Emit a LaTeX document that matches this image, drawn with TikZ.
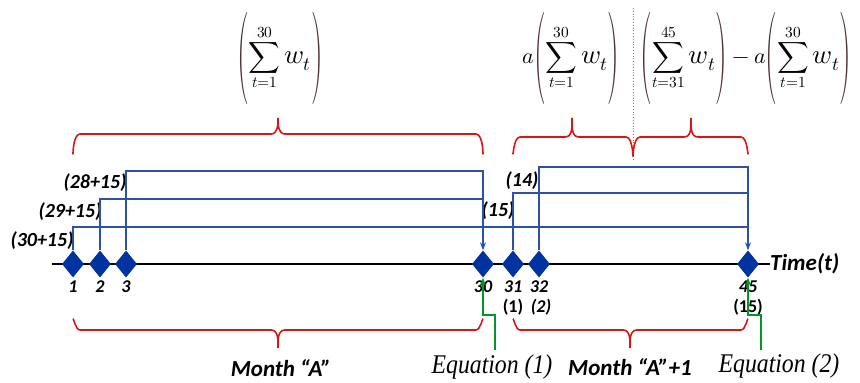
\documentclass[tikz,border=0pt]{standalone}
\usepackage{fontspec}
\usepackage{unicode-math}
\usepackage{graphicx}
\usetikzlibrary{shapes.geometric,arrows.meta}
\newfontfamily\lblfont{Carlito}
\newfontfamily\eqfont{Liberation Serif}
\definecolor{dblue}{RGB}{0,51,160}
\definecolor{lblue}{RGB}{45,80,170}
\definecolor{bred}{RGB}{220,20,20}
\definecolor{bgreen}{RGB}{0,150,40}
\definecolor{pbrown}{RGB}{80,50,50}
\tikzset{
  dia/.style={diamond,fill=dblue,draw=none,minimum width=22pt,minimum height=27pt,inner sep=0pt},
  num/.style={font=\lblfont\bfseries\itshape\fontsize{18}{20}\selectfont,inner sep=0pt},
  numup/.style={font=\lblfont\bfseries\fontsize{18}{20}\selectfont,inner sep=0pt},
  cnt/.style={font=\lblfont\bfseries\itshape\fontsize{20}{22}\selectfont,inner sep=0pt},
  big/.style={font=\lblfont\bfseries\itshape\fontsize{23}{26}\selectfont,inner sep=0pt},
  eqlbl/.style={font=\eqfont\itshape\fontsize{27}{30}\selectfont,inner sep=0pt,xscale=0.88},
  formula/.style={font=\fontsize{22}{26}\selectfont,inner sep=0pt},
  bline/.style={draw=lblue,line width=1.3pt},
  btip/.style={-{Stealth[length=8pt,width=6pt]}},
  brace/.style={draw=bred,line width=1.6pt},
  gline/.style={draw=bgreen,line width=1.5pt,-{Stealth[length=8pt,width=6pt]}},
}
\newcommand{\lpar}{\mathopen{\vcenter{\hbox{\color{pbrown}\scalebox{1.5}[4.2]{\fontsize{22}{22}\selectfont(}}}}}
\newcommand{\rpar}{\mathclose{\vcenter{\hbox{\color{pbrown}\scalebox{1.5}[4.2]{\fontsize{22}{22}\selectfont)}}}}}
\newcommand{\wt}{\mbox{\fontsize{27}{27}\selectfont$w_t$}}
\newcommand{\wsum}[2]{\lpar\displaystyle\sum_{#1}^{#2}\wt\rpar}
\begin{document}
\begin{tikzpicture}[x=1pt,y=-1pt]
\useasboundingbox (0,0) rectangle (860,383);
% axis
\coordinate (axL) at (52,264);
\node[big,anchor=west] (time) at (770,264) {Time(t)};
\draw[line width=2pt] (axL) -- (time.west);
% diamonds
\node[dia] (d1) at (73,264) {};
\node[dia] (d2) at (100,264) {};
\node[dia] (d3) at (126,264) {};
\node[dia] (d30) at (483,264) {};
\node[dia] (d31) at (513,264) {};
\node[dia] (d32) at (539,264) {};
\node[dia] (d45) at (748,264) {};
% numbers
\node[num] (n1) at (73,287) {1};
\node[num] (n2) at (100,287) {2};
\node[num] (n3) at (126,287) {3};
\node[num] (n30) at (483,287) {30};
\node[num] (n31) at (513,287) {31};
\node[num] (n32) at (539,287) {32};
\node[num] (n45) at (748,287) {45};
\node[numup] (p1) at (513,307) {(1)};
\node[num] (p2) at (541,307) {(2)};
\node[numup] (p15) at (748,307) {(15)};
% counts
\node[cnt] (c1) at (42,241) {(30+15)};
\node[cnt] (c2) at (70,212) {(29+15)};
\node[cnt] (c3) at (95,183) {(28+15)};
\node[cnt] (c4) at (498,211) {(15)};
\node[cnt] (c5) at (522,181) {(14)};
% blue lines
\coordinate (y227) at (0,227);
\coordinate (y199) at (0,199);
\coordinate (y171) at (0,171);
\coordinate (y193) at (0,193);
\coordinate (y167) at (0,167);
\draw[bline] (d1.north) |- (y227 -| d45);
\draw[bline] (d2.north) |- (y199 -| d30);
\draw[bline,btip] (d3.north) |- (y171 -| d30) -- (d30.north);
\draw[bline] (d31.north) |- (y193 -| d45);
\draw[bline,btip] (d32.north) |- (y167 -| d45) -- (d45.north);
% formulas
\node[formula] (f1) at (280,58) {$\wsum{t=1}{30}$};
\node[formula] (f2) at (571,58) {$a\wsum{t=1}{30}$};
\node[formula] (f3) at (746,58) {$\wsum{t=31}{45}-a\wsum{t=1}{30}$};
% dotted separator
\draw[gray,dotted,line width=0.8pt] (633,8) -- (633,160);
% top braces
\draw[brace] (73,153) to[out=-90,in=180] (80,134) -- (271,134) to[out=0,in=-90] (278,118)
  to[out=-90,in=180] (285,134) -- (476,134) to[out=0,in=-90] (483,153);
\draw[brace] (513,153) to[out=-90,in=180] (520,137) -- (565,137) to[out=0,in=-90] (572,118)
  to[out=-90,in=180] (579,137) -- (626,137) to[out=0,in=-90] (633,155);
\draw[brace] (633,155) to[out=-90,in=180] (640,137) -- (684,137) to[out=0,in=-90] (691,118)
  to[out=-90,in=180] (698,137) -- (741,137) to[out=0,in=-90] (748,153);
% bottom braces
\draw[brace] (73,320) to[out=90,in=180] (80,330) -- (271,330) to[out=0,in=90] (278,348)
  to[out=90,in=180] (285,330) -- (476,330) to[out=0,in=90] (483,320);
\draw[brace] (513,320) to[out=90,in=180] (520,330) -- (623,330) to[out=0,in=90] (630,348)
  to[out=90,in=180] (637,330) -- (741,330) to[out=0,in=90] (748,320);
% bottom labels
\node[big] (mA) at (281,368) {Month “A”};
\node[big] (mA1) at (630,367) {Month “A”+1};
\node[eqlbl] (e1) at (492,367) {Equation (1)};
\node[eqlbl] (e2) at (779,366) {Equation (2)};
% green connectors
\coordinate (g1) at (495,350);
\coordinate (g2) at (761,350);
\draw[gline] (g1) -- (g1 |- 0,315) -| (d30.south);
\draw[gline] (g2) -- (g2 |- 0,315) -| (d45.south);
\end{tikzpicture}
\end{document}
